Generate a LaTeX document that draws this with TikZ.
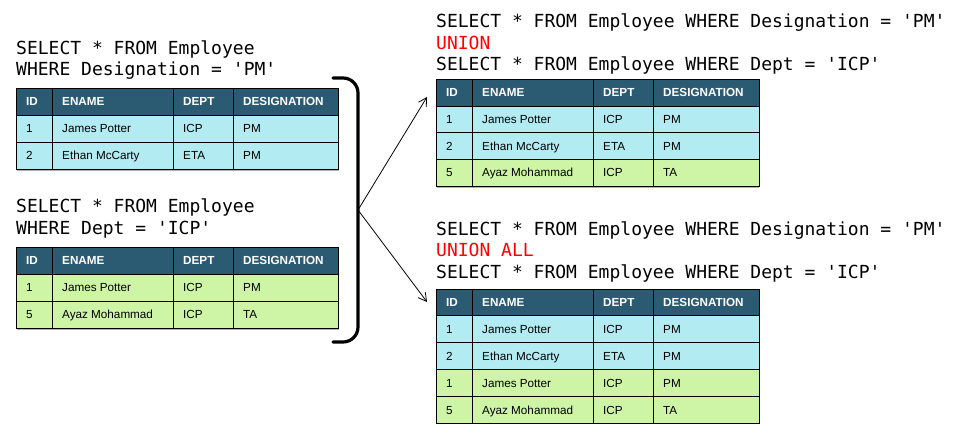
\documentclass[tikz,border=0pt]{standalone}
\usepackage{fontspec}
\setmainfont{Liberation Sans}
\newfontfamily\sqlfont{DejaVu Sans Mono}
\usetikzlibrary{arrows.meta}
\definecolor{hdr}{HTML}{2B5B72}
\definecolor{cy}{HTML}{B2EBF2}
\definecolor{gr}{HTML}{CEF5A6}
\definecolor{sqlred}{HTML}{FF0000}
\newcommand\cellfont{\fontsize{11.7}{14}\selectfont}
\tikzset{
  sql/.style={font=\sqlfont\fontsize{18}{21}\selectfont, anchor=base west, inner sep=0pt},
  celltxt/.style={anchor=base west, inner sep=0pt, font=\cellfont},
  hdrtxt/.style={anchor=base west, inner sep=0pt, text=white, font=\cellfont\bfseries},
  gridline/.style={draw=black, line width=0.8pt},
  shadowline/.style={draw=black!30, line width=1.2pt},
  bracketline/.style={line width=3.2pt, rounded corners=15pt, line cap=round},
  arr/.style={line width=0.8pt, -{Straight Barb[length=8pt,width=9pt]}},
}
% #1 style, #2 name, #3 ytop, #4 ybot, #5 fill, #6-#9 texts
\newcommand\trow[9]{%
  \path[gridline, fill=#5] (\xa,#3) rectangle (\xb,#4) (\xb,#3) rectangle (\xc,#4)
     (\xc,#3) rectangle (\xd,#4) (\xd,#3) rectangle (\xe,#4);
  \node[#1] (#2-1) at (\xa+10,{(#3+#4)/2+4.3}) {#6};
  \node[#1] (#2-2) at (\xb+10,{(#3+#4)/2+4.3}) {#7};
  \node[#1] (#2-3) at (\xc+10,{(#3+#4)/2+4.3}) {#8};
  \node[#1] (#2-4) at (\xd+10,{(#3+#4)/2+4.3}) {#9};
}
\begin{document}
\begin{tikzpicture}[x=1pt,y=-1pt]
\useasboundingbox (0,0) rectangle (960,440);
\fill[white] (0,0) rectangle (960,440);

% ---------- left top ----------
\node[sql] (q1a) at (16,54) {SELECT * FROM Employee};
\node[sql] (q1b) at (16,75) {WHERE Designation = 'PM'};
\def\xa{16}\def\xb{52}\def\xc{173}\def\xd{233}\def\xe{338.5}
\draw[shadowline] (\xa+1,170.5) -- (\xe,170.5);
\trow{hdrtxt}{t1h}{88}{115}{hdr}{ID}{ENAME}{DEPT}{DESIGNATION}
\trow{celltxt}{t1r1}{115}{142}{cy}{1}{James Potter}{ICP}{PM}
\trow{celltxt}{t1r2}{142}{169}{cy}{2}{Ethan McCarty}{ETA}{PM}

% ---------- left bottom ----------
\node[sql] (q2a) at (16,212.5) {SELECT * FROM Employee};
\node[sql] (q2b) at (16,234.5) {WHERE Dept = 'ICP'};
\draw[shadowline] (\xa+1,329.5) -- (\xe,329.5);
\trow{hdrtxt}{t2h}{247}{274}{hdr}{ID}{ENAME}{DEPT}{DESIGNATION}
\trow{celltxt}{t2r1}{274}{301}{gr}{1}{James Potter}{ICP}{PM}
\trow{celltxt}{t2r2}{301}{328}{gr}{5}{Ayaz Mohammad}{ICP}{TA}

% ---------- bracket and arrows ----------
\coordinate (b1) at (333,78);
\coordinate (bm) at (358,210);
\coordinate (b2) at (333,342);
\draw[bracketline] (b1) -| (bm) |- (b2);
\coordinate (a1) at (427,97);
\coordinate (a2) at (427,302);
\draw[arr] (bm) -- (a1);
\draw[arr] (bm) -- (a2);

% ---------- right top: UNION ----------
\node[sql] (q3a) at (436,27.7) {SELECT * FROM Employee WHERE Designation = 'PM'};
\node[sql, text=sqlred] (q3b) at (436,49.3) {UNION};
\node[sql] (q3c) at (436,70.7) {SELECT * FROM Employee WHERE Dept = 'ICP'};
\def\xa{436}\def\xb{472}\def\xc{593}\def\xd{653}\def\xe{759}
\draw[shadowline] (\xa+1,187.5) -- (\xe,187.5);
\trow{hdrtxt}{t3h}{79}{106}{hdr}{ID}{ENAME}{DEPT}{DESIGNATION}
\trow{celltxt}{t3r1}{106}{132.7}{cy}{1}{James Potter}{ICP}{PM}
\trow{celltxt}{t3r2}{132.7}{159.3}{cy}{2}{Ethan McCarty}{ETA}{PM}
\trow{celltxt}{t3r3}{159.3}{186}{gr}{5}{Ayaz Mohammad}{ICP}{TA}

% ---------- right bottom: UNION ALL ----------
\node[sql] (q4a) at (436,235) {SELECT * FROM Employee WHERE Designation = 'PM'};
\node[sql, text=sqlred] (q4b) at (436,256.7) {UNION ALL};
\node[sql] (q4c) at (436,278.3) {SELECT * FROM Employee WHERE Dept = 'ICP'};
\trow{hdrtxt}{t4h}{289}{315.5}{hdr}{ID}{ENAME}{DEPT}{DESIGNATION}
\trow{celltxt}{t4r1}{315.5}{342.5}{cy}{1}{James Potter}{ICP}{PM}
\trow{celltxt}{t4r2}{342.5}{369.5}{cy}{2}{Ethan McCarty}{ETA}{PM}
\trow{celltxt}{t4r3}{369.5}{396.5}{gr}{1}{James Potter}{ICP}{PM}
\trow{celltxt}{t4r4}{396.5}{423.5}{gr}{5}{Ayaz Mohammad}{ICP}{TA}
\end{tikzpicture}
\end{document}
